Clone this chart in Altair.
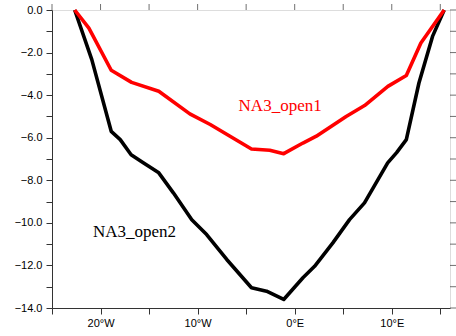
import altair as alt
import pandas as pd

# red series: NA3_open1
lon1 = [-22.66, -21.2, -18.9, -16.8, -14.0, -10.8, -8.7, -4.45, -2.57, -1.13,
        0.85, 2.23, 5.3, 7.2, 9.6, 11.5, 13.0, 15.4]
val1 = [0.0, -0.85, -2.83, -3.4, -3.82, -4.88, -5.38, -6.53, -6.59, -6.75,
        -6.25, -5.93, -5.0, -4.49, -3.59, -3.08, -1.55, 0.0]

# black series: NA3_open2
lon2 = [-22.66, -20.9, -18.9, -17.97, -16.85, -15.6, -14.0, -12.5, -10.6, -9.07,
        -7.0, -4.45, -2.9, -1.13, 0.85, 2.05, 3.93, 5.65, 7.19, 9.58, 10.5,
        11.5, 12.8, 14.2, 15.4]
val2 = [0.0, -2.33, -5.7, -6.09, -6.8, -7.18, -7.65, -8.59, -9.85, -10.55,
        -11.72, -13.05, -13.21, -13.6, -12.58, -12.04, -10.94, -9.85, -9.06,
        -7.18, -6.7, -6.09, -3.43, -1.24, 0.0]

labels = ["NA3_open1", "NA3_open2"]
label_lon = [-1.5, -16.5]
label_val = [-4.49, -10.44]
label_color = ["#ff0000", "#000000"]

x_ticks = list(range(-25, 16, 5))
y_ticks = list(range(-14, 1, 1))

df1 = pd.DataFrame({"lon": lon1, "val": val1})
df2 = pd.DataFrame({"lon": lon2, "val": val2})
dfl = pd.DataFrame({"lon": label_lon, "val": label_val, "text": labels, "color": label_color})
dfx = pd.DataFrame({"lon": x_ticks})
dfy = pd.DataFrame({"val": y_ticks})

xscale = alt.Scale(domain=[-25, 16], nice=False, zero=False)
yscale = alt.Scale(domain=[-14, 0], nice=False, zero=False)

axis_common = dict(
    domainColor="#333", domainWidth=1, tickColor="#333", tickWidth=1, tickSize=6,
    grid=False, labelFont="Liberation Sans", labelFontSize=11, labelColor="#000",
)

x_label_expr = ("datum.value % 10 == 0 ? (abs(datum.value) + '°' + (datum.value < 0 ? 'W' : 'E')) : ''")
y_label_expr = ("datum.value % 2 == 0 ? format(datum.value, '.1f') : ''")

x_axis = alt.Axis(values=x_ticks, orient="bottom", labelExpr=x_label_expr, labelPadding=3, **axis_common)
y_axis = alt.Axis(values=y_ticks, orient="left", labelExpr=y_label_expr, labelPadding=4, **axis_common)

def xb():
    return alt.X("lon:Q", scale=xscale, title=None, axis=x_axis)

def yl():
    return alt.Y("val:Q", scale=yscale, title=None, axis=y_axis)

line2 = alt.Chart(df2).mark_line(color="#000000", strokeWidth=3.6, strokeJoin="round").encode(
    x=xb(), y=yl())
line1 = alt.Chart(df1).mark_line(color="#ff0000", strokeWidth=3.6, strokeJoin="round").encode(
    x=xb(), y=yl())
text = alt.Chart(dfl).mark_text(font="Liberation Serif", fontSize=17).encode(
    x=xb(), y=yl(),
    text="text:N",
    color=alt.Color("color:N", scale=None),
)
# mirrored tick marks on the top and right frame edges
top_ticks = alt.Chart(dfx).mark_tick(color="#333", thickness=1, size=6, orient="vertical").encode(
    x=xb(),
    y=alt.value(-3),
)
right_ticks = alt.Chart(dfy).mark_tick(color="#333", thickness=1, size=6, orient="horizontal").encode(
    y=yl(),
    x=alt.value(401),
)

chart = (
    alt.layer(line2, line1, text, top_ticks, right_ticks)
    .properties(
        width=398, height=298,
        autosize=alt.AutoSizeParams(type="none"),
        padding={"left": 52, "top": 10, "right": 6, "bottom": 28},
    )
    .configure_view(stroke="#333", strokeWidth=1)
    .configure(background="white")
)

chart.save("out.html", embed_options={"renderer": "svg", "actions": False})
